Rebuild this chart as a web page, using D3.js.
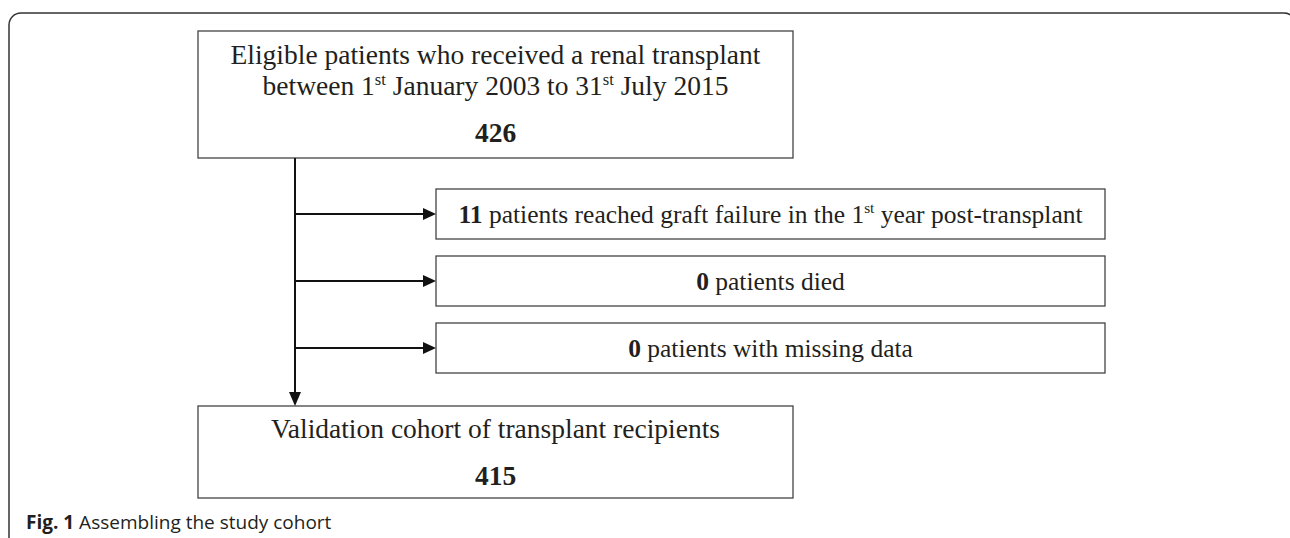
<!DOCTYPE html>
<html>
<head>
<meta charset="utf-8">
<script src="https://cdn.jsdelivr.net/npm/d3@7"></script>
<style>
  body { margin: 0; background: #fff; }
  svg { display: block; }
  .box { fill: #fff; stroke: #444; stroke-width: 1.3; }
  .serif { font-family: "Liberation Serif", "Times New Roman", serif; fill: #231f20; }
  .flow { stroke: #111; stroke-width: 2; fill: none; }
</style>
</head>
<body>
<div id="chart"></div>
<script>
const WIDTH = 1290, HEIGHT = 538;

// flow data
const eligibleText = ["Eligible patients who received a renal transplant", "between 1^st^ January 2003 to 31^st^ July 2015"];
const eligibleCount = 426;
const exclusionCounts = [11, 0, 0];
const exclusionText = [" patients reached graft failure in the 1^st^ year post-transplant", " patients died", " patients with missing data"];
const cohortText = ["Validation cohort of transplant recipients"];
const cohortCount = 415;
const captionBold = "Fig. 1";
const captionText = " Assembling the study cohort";

const svg = d3.select("#chart").append("svg").attr("width", WIDTH).attr("height", HEIGHT)

// outer frame, rounded corners run off the page
svg.append("rect").attr("x", 9).attr("y", 13).attr("width", 1287).attr("height", 600)
    .attr("rx", 12).attr("fill", "none").attr("stroke", "#333").attr("stroke-width", 1.5)

// layout scales
const x_main = d3.scaleLinear().domain([0, 1]).range([198, 793])
const x_side = d3.scaleLinear().domain([0, 1]).range([436, 1105])
const y_side = d3.scaleBand().domain(d3.range(exclusionCounts.length)).range([189, 373]).paddingInner(17 / 67).paddingOuter(0)
const spineX = 295

// writes "text ^sup^ text" with optional bold lead
function rich(sel, str, bold) {
    if (bold !== undefined) sel.append("tspan").attr("font-weight", "bold").text(bold)
    var back = null
    str.split("^").forEach((part, i) => {
        if (!part) return
        if (i % 2 == 1) {
            sel.append("tspan").attr("font-size", "0.6em").attr("dy", "-0.62em").text(part)
            back = "0.372em"
        } else {
            const t = sel.append("tspan").text(part)
            if (back) { t.attr("dy", back); back = null }
        }
    })
}

const FS_MAIN = 27.5
const FS_SIDE = 25.5

// top box
const top_g = svg.append("g")
top_g.append("rect").attr("class", "box").attr("x", x_main(0)).attr("y", 31).attr("width", x_main(1) - x_main(0)).attr("height", 127)
eligibleText.forEach((line, i) => {
    rich(top_g.append("text").attr("class", "serif").attr("font-size", FS_MAIN).attr("text-anchor", "middle")
        .attr("x", x_main(0.5)).attr("y", 64 + i * 31), line)
})
top_g.append("text").attr("class", "serif").attr("font-size", FS_MAIN).attr("font-weight", "bold").attr("text-anchor", "middle")
    .attr("x", x_main(0.5)).attr("y", 142).text(eligibleCount)

// bottom box
const bot_g = svg.append("g")
bot_g.append("rect").attr("class", "box").attr("x", x_main(0)).attr("y", 406).attr("width", x_main(1) - x_main(0)).attr("height", 92)
cohortText.forEach((line, i) => {
    rich(bot_g.append("text").attr("class", "serif").attr("font-size", FS_MAIN).attr("text-anchor", "middle")
        .attr("x", x_main(0.5)).attr("y", 438 + i * 31), line)
})
bot_g.append("text").attr("class", "serif").attr("font-size", FS_MAIN).attr("font-weight", "bold").attr("text-anchor", "middle")
    .attr("x", x_main(0.5)).attr("y", 485).text(cohortCount)

// exclusion boxes
const side = svg.selectAll(".side").data(exclusionCounts).enter().append("g").attr("class", "side")
side.append("rect").attr("class", "box").attr("stroke", "#555")
    .attr("x", x_side(0)).attr("y", (d, i) => y_side(i)).attr("width", x_side(1) - x_side(0)).attr("height", y_side.bandwidth())
side.each(function(d, i) {
    rich(d3.select(this).append("text").attr("class", "serif").attr("font-size", FS_SIDE).attr("text-anchor", "middle")
        .attr("x", x_side(0.5)).attr("y", y_side(i) + y_side.bandwidth() / 2 + 8.5), exclusionText[i], String(d))
})

// spine and arrows
svg.append("line").attr("class", "flow").attr("x1", spineX).attr("x2", spineX).attr("y1", 158).attr("y2", 393)
svg.append("path").attr("fill", "#111")
    .attr("d", "M" + (spineX - 6) + ",392 L" + (spineX + 6) + ",392 L" + spineX + ",406 Z")
side.append("line").attr("class", "flow")
    .attr("x1", spineX).attr("x2", x_side(0) - 12)
    .attr("y1", (d, i) => y_side(i) + y_side.bandwidth() / 2).attr("y2", (d, i) => y_side(i) + y_side.bandwidth() / 2)
side.append("path").attr("fill", "#111")
    .attr("d", (d, i) => {
        const y = y_side(i) + y_side.bandwidth() / 2
        const x = x_side(0)
        return "M" + (x - 13) + "," + (y - 6) + " L" + x + "," + y + " L" + (x - 13) + "," + (y + 6) + " Z"
    })

// caption
const cap = svg.append("text").attr("x", 26).attr("y", 529).attr("font-family", "'Open Sans', sans-serif")
    .attr("font-size", 19).attr("fill", "#231f20")
cap.append("tspan").attr("font-weight", "bold").text(captionBold)
cap.append("tspan").text(captionText)
</script>
</body>
</html>
